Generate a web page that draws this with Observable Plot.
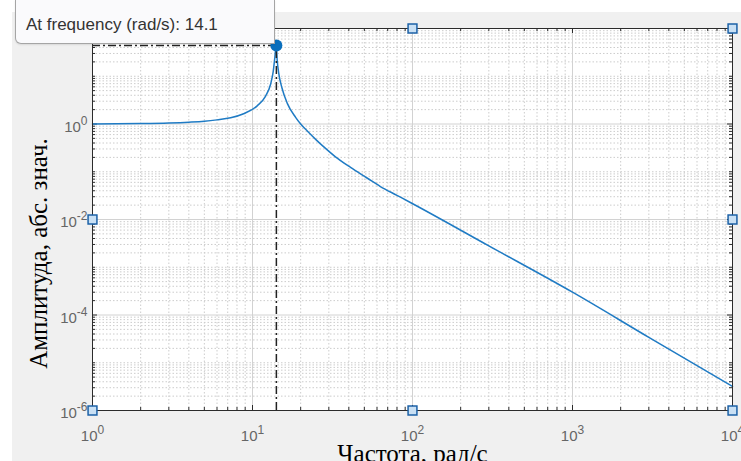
<!DOCTYPE html>
<html><head><meta charset="utf-8">
<script src="https://cdn.jsdelivr.net/npm/d3@7"></script>
<script src="https://cdn.jsdelivr.net/npm/@observablehq/plot@0.6"></script>
<style>
html,body{margin:0;padding:0;background:#fff;}
#wrap{position:relative;width:741px;height:461px;overflow:hidden;background:#fff;}
#gray{position:absolute;left:12px;top:12px;right:0;bottom:0;background:#f0f0f0;}
#chart{position:absolute;left:0;top:0;}
#tip{position:absolute;left:15px;top:0;width:260px;height:44px;background:#fafafc;border:1px solid #a5a5a5;border-top:none;border-bottom-left-radius:6px;font:17px "Liberation Sans",Arial,sans-serif;color:#333;box-sizing:border-box;padding:15px 0 0 10px;box-shadow:0 1px 2px rgba(0,0,0,0.10);white-space:nowrap;}
</style></head>
<body><div id="wrap"><div id="gray"></div><div id="chart"></div><div id="tip">At frequency (rad/s): 14.1</div></div>
<script>
// Magnitude response (frequency rad/s, absolute amplitude)
const freq = [1, 2, 3, 4, 5, 6, 7.3, 8.8, 10.7, 12.05, 12.96, 13.47, 13.78, 14.06, 14.27, 14.6, 15.3, 16.5, 18.6, 20, 22, 25, 27.8, 33, 41, 52, 63, 80, 97, 300, 1000, 3000, 10000];
const amp  = [1.0, 1.02, 1.05, 1.09, 1.14, 1.22, 1.35, 1.64, 2.4, 3.8, 6.7, 12.5, 24, 44, 21.4, 11.4, 5.6, 2.7, 1.38, 1.0, 0.71, 0.465, 0.335, 0.205, 0.123, 0.074, 0.049, 0.032, 0.0227, 0.0028, 0.0003, 0.000034, 0.0000032];
const peakFreq = [14.1];
const peakAmp = [44];
const xTicks = [1, 10, 100, 1000, 10000];
const xTickLabels = ["10^0", "10^1", "10^2", "10^3", "10^4"];
const yTicks = [1e-6, 1e-4, 1e-2, 1];
const yTickLabels = ["10^-6", "10^-4", "10^-2", "10^0"];
const handleX = [1, 100, 10000, 1, 10000, 1, 100, 10000];
const handleY = [1e-6, 1e-6, 1e-6, 1e-2, 1e-2, 1e2, 1e2, 1e2];
const xDomain = [1, 1e4];
const yDomain = [1e-6, 1e2];
const xLabel = "Частота, рад/с";
const yLabel = "Амплитуда, абс. знач.";

const curve = freq.map((f, i) => ({f, a: amp[i]}));
const peak = peakFreq.map((f, i) => ({f, a: peakAmp[i]}));
const handles = handleX.map((x, i) => ({x, y: handleY[i]}));

// grid/tick positions
const xMinor = [];
for (let k = 0; k < 4; k++) for (let m = 2; m <= 9; m++) xMinor.push(m * 10 ** k);
const xMajor = [10, 100, 1000];
const yMinor = [];
for (let k = -6; k < 2; k++) for (let m = 1; m <= 9; m++) {
  if (m === 1 && k % 2 === 0) continue;
  yMinor.push(m * 10 ** k);
}
const yMajor = [1e-4, 1e-2, 1];

const W = 741, H = 461, mL = 92, mR = 9, mT = 28, mB = 51;
const PW = W - mL - mR, PH = H - mT - mB;
const axisColor = "#2b2b2b";
const serif = "'Liberation Serif', 'Times New Roman', serif";

const svg = Plot.plot({
  width: W, height: H,
  marginLeft: mL, marginRight: mR, marginTop: mT, marginBottom: mB,
  style: {background: "transparent", fontFamily: "'Liberation Sans', Arial, sans-serif", overflow: "visible"},
  x: {type: "log", domain: xDomain},
  y: {type: "log", domain: yDomain},
  marks: [
    Plot.frame({fill: "white"}),
    Plot.ruleX(xMinor, {stroke: "#cccccc", strokeDasharray: "1.5,2"}),
    Plot.ruleY(yMinor, {stroke: "#cccccc", strokeDasharray: "1.5,2"}),
    Plot.ruleX(xMajor, {stroke: "#d2d2d2"}),
    Plot.ruleY(yMajor, {stroke: "#d2d2d2"}),
    // inward ticks, all four sides
    Plot.ruleX(xMinor, {insetTop: PH - 3, stroke: axisColor}),
    Plot.ruleX(xMinor, {insetBottom: PH - 3, stroke: axisColor}),
    Plot.ruleX(xMajor, {insetTop: PH - 5, stroke: axisColor}),
    Plot.ruleX(xMajor, {insetBottom: PH - 5, stroke: axisColor}),
    Plot.ruleY(yMinor, {insetRight: PW - 3, stroke: axisColor}),
    Plot.ruleY(yMinor, {insetLeft: PW - 3, stroke: axisColor}),
    Plot.ruleY(yMajor, {insetRight: PW - 5, stroke: axisColor}),
    Plot.ruleY(yMajor, {insetLeft: PW - 5, stroke: axisColor}),
    Plot.axisX({ticks: xTicks, tickSize: 0, tickPadding: 20, fontSize: 15, fill: "#666666",
      tickFormat: d => xTickLabels[xTicks.indexOf(d)], label: null}),
    Plot.axisY({ticks: yTicks, tickSize: 0, tickPadding: 5, fontSize: 15, fill: "#666666", dy: 3,
      tickFormat: d => yTickLabels[yTicks.indexOf(d)], label: null}),
    Plot.line(curve, {x: "f", y: "a", stroke: "#1f7bc4", strokeWidth: 1.5, curve: "monotone-x"}),
    Plot.ruleX(peak, {x: "f", y1: yDomain[0], y2: "a", stroke: "#222", strokeWidth: 1.5, strokeDasharray: "8,3,2,3"}),
    Plot.ruleY(peak, {y: "a", x1: xDomain[0], x2: "f", stroke: "#222", strokeWidth: 1.5, strokeDasharray: "8,3,2,3"}),
    Plot.frame({stroke: axisColor}),
    Plot.dot(handles, {x: "x", y: "y", symbol: "square", r: 5, fill: "#c9e0f4", stroke: "#1d62a8", strokeWidth: 1.5, clip: false}),
    Plot.dot(peak, {x: "f", y: "a", r: 6, fill: "#0a6fbd"}),
    Plot.text([xLabel], {frameAnchor: "bottom", textAnchor: "middle", lineAnchor: "middle", dy: 43,
      fontSize: 25, fontFamily: serif, fill: "#000"}),
    Plot.text([yLabel], {frameAnchor: "left", textAnchor: "middle", lineAnchor: "middle", rotate: -90, dx: -54, dy: 34,
      fontSize: 25, fontFamily: serif, fill: "#000"})
  ]
});

// convert "10^k" labels into superscripts
svg.querySelectorAll("text").forEach(t => {
  const m = /^10\^(-?\d+)$/.exec(t.textContent);
  if (m) {
    t.textContent = "10";
    const ts = document.createElementNS("http://www.w3.org/2000/svg", "tspan");
    ts.setAttribute("dy", "-7");
    ts.setAttribute("font-size", "12");
    ts.textContent = m[1];
    t.appendChild(ts);
  }
});
document.getElementById("chart").appendChild(svg);
</script>
</body></html>
